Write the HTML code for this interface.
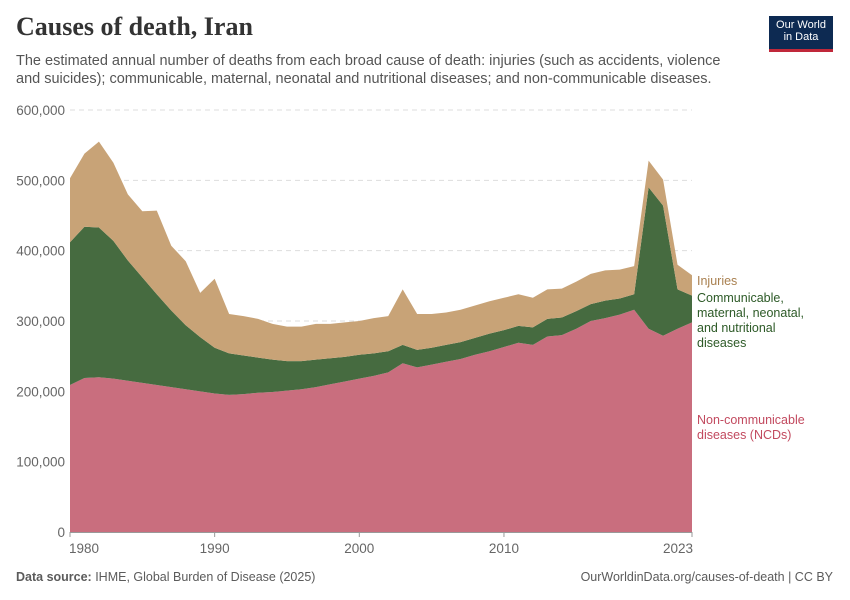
<!DOCTYPE html>
<html><head><meta charset="utf-8">
<style>
body{margin:0;background:#fff;font-family:"Liberation Sans",sans-serif;}
.wrap{position:relative;width:850px;height:600px;overflow:hidden;}
h1{position:absolute;left:16px;top:12px;margin:0;font-family:"Liberation Serif",serif;font-weight:700;font-size:26px;color:#333;}
.sub{position:absolute;left:16px;top:52px;width:720px;font-size:14.5px;line-height:18px;color:#555;margin:0;}
.logo{position:absolute;left:769px;top:16px;width:64px;height:36px;background:#0d2a52;color:#fff;font-size:11px;line-height:12px;text-align:center;padding-top:3px;box-sizing:border-box;border-bottom:3px solid #c0283a;}
.foot{position:absolute;top:570px;font-size:12.5px;color:#5b5b5b;}
</style></head><body>
<div class="wrap">
<h1>Causes of death, Iran</h1>
<p class="sub">The estimated annual number of deaths from each broad cause of death: injuries (such as accidents, violence and suicides); communicable, maternal, neonatal and nutritional diseases; and non-communicable diseases.</p>
<div class="logo">Our World<br>in Data</div>
<div class="foot" style="left:16px"><b>Data source:</b> IHME, Global Burden of Disease (2025)</div>
<div class="foot" style="right:17px">OurWorldinData.org/causes-of-death | CC BY</div>
<svg id="chart" width="850" height="600" style="position:absolute;left:0;top:0"></svg>
</div>
<script>
const years=[];for(let y=1980;y<=2023;y++)years.push(y);
const ncd=[209,219,220,218,215,212,209,206,203,200,197,195,196,198,199,201,203,206,210,214,218,222,227,240,234,238,242,246,252,257,263,269,266,278,280,289,300,304,309,316,289,279,289,298];
const ncdPlusComm=[412,434,433,414,386,362,338,315,294,277,262,254,251,248,245,243,243,245,247,249,252,254,257,266,259,262,266,270,276,282,287,293,291,303,305,314,324,329,332,338,490,464,345,336];
const totalDeaths=[503,538,555,525,480,456,457,407,385,340,360,310,307,303,296,292,292,296,296,298,300,304,307,345,310,310,312,316,322,328,333,338,333,345,346,356,367,372,373,378,528,501,380,365];
const communicable=ncdPlusComm.map((v,i)=>v-ncd[i]);
const injuries=totalDeaths.map((v,i)=>v-ncdPlusComm[i]);
const yTicks=[0,100000,200000,300000,400000,500000,600000];
const xTicks=[1980,1990,2000,2010,2023];

const NS="http://www.w3.org/2000/svg";
const svg=document.getElementById('chart');
const X=y=>70+(y-1980)*(622/43);
const Y=v=>532-v*(422/600000);
function el(t,a){const e=document.createElementNS(NS,t);for(const k in a)e.setAttribute(k,a[k]);svg.appendChild(e);return e;}
yTicks.forEach(t=>{
  if(t>0){const l=el('line',{x1:70,x2:692,y1:Y(t),y2:Y(t),stroke:'#ddd','stroke-dasharray':'5,4'});
  
  }
  const tx=el('text',{x:65,y:Y(t)+5,'text-anchor':'end','font-size':13.5,fill:'#666','font-family':'Liberation Sans'});
  tx.textContent=t.toLocaleString('en-US');
  
  
});
const series=[['ncd-area',ncd,'#c96e7e'],['communicable-area',communicable,'#466b40'],['injuries-area',injuries,'#c8a377']];
let base=years.map(()=>0);
series.forEach(([name,vals,col])=>{
  const top=base.map((b,i)=>b+vals[i]*1000);
  let d='M'+years.map((y,i)=>X(y)+','+Y(top[i])).join('L');
  for(let i=years.length-1;i>=0;i--)d+='L'+X(years[i])+','+Y(base[i]);
  const p=el('path',{d:d+'Z',fill:col});
  
  
  base=top;
});
const ax=el('line',{x1:70,x2:692,y1:532.5,y2:532.5,stroke:'#999'});


xTicks.forEach(t=>{
  const tk=el('line',{x1:X(t),x2:X(t),y1:532,y2:537,stroke:'#999'});
  
  
  const tx=el('text',{x:X(t)+(t===1980?14:t===2023?-14:0),y:553,'text-anchor':'middle','font-size':13.5,fill:'#666','font-family':'Liberation Sans'});
  tx.textContent=t;
  
  
});
const labels=[['injuries-label','#a98050',[['Injuries',285]]],
['communicable-label','#2d5a27',[['Communicable,',302],['maternal, neonatal,',317],['and nutritional',332],['diseases',347]]],
['ncd-label','#c24a5f',[['Non-communicable',424],['diseases (NCDs)',439]]]];
labels.forEach(([n,c,lines])=>{
  const t=el('text',{'font-size':12.5,fill:c,'font-family':'Liberation Sans'});
  
  
  lines.forEach(([s,y])=>{const ts=document.createElementNS(NS,'tspan');ts.setAttribute('x',697);ts.setAttribute('y',y);ts.textContent=s;t.appendChild(ts);});
});
</script>
</body></html>
